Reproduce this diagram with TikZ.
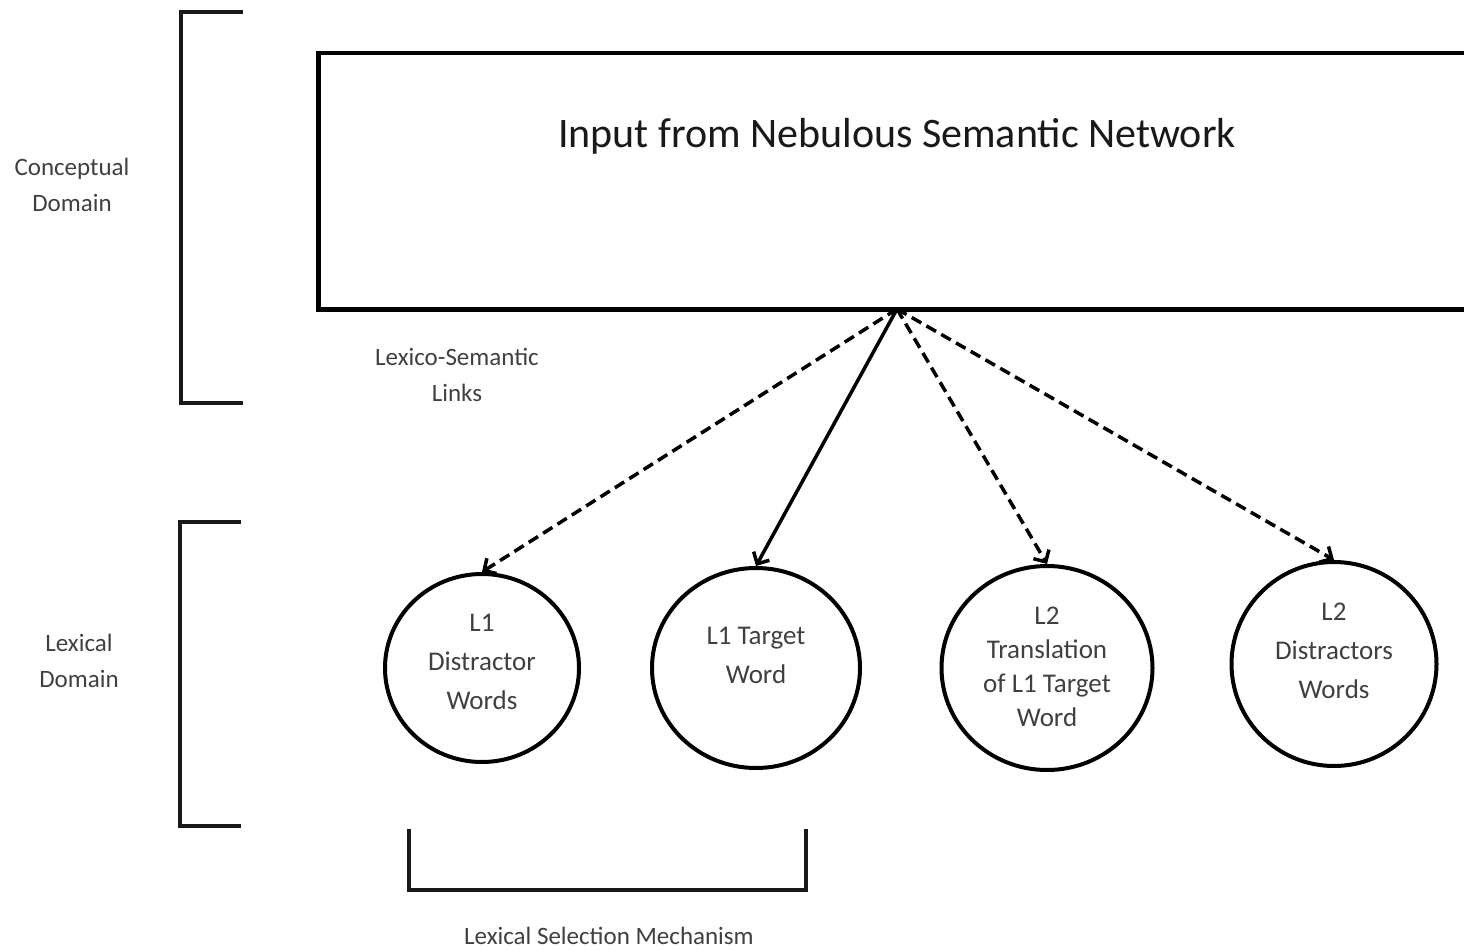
\documentclass[tikz,border=0pt]{standalone}
\usepackage{fontspec}
\setmainfont{Carlito}
\usetikzlibrary{arrows.meta,shapes.geometric}
\begin{document}
\begin{tikzpicture}[x=1pt,y=-1pt,
  bracket/.style={line width=3.5pt, black!90},
  bubble/.style={draw, ellipse, line width=4pt, inner sep=0pt},
  lbl/.style={font=\fontsize{25}{36}\selectfont, text=black!75, align=center, inner sep=0pt},
  ctext/.style={font=\fontsize{27}{39}\selectfont, text=black!75, align=center, inner sep=0pt},
  link/.style={line width=3.5pt, -{Straight Barb[length=9pt,width=18pt,line width=3.5pt]}},
  dashlink/.style={link, dash pattern=on 11pt off 6pt}]
\useasboundingbox (0,0) rectangle (1464,950);
\fill[white] (0,0) rectangle (1464,950);

% brackets
\draw[bracket] (243,12) -- (181,12) -- (181,403) -- (243,403);
\draw[bracket] (241,522) -- (180,522) -- (180,826) -- (241,826);
\draw[bracket] (409,829) -- (409,890) -- (806,890) -- (806,829);

% input box
\node[draw, line width=4.5pt, minimum width=1200pt, minimum height=256pt, anchor=north west, inner sep=0pt] (input) at (316,51) {};
\node[font=\fontsize{42}{50}\selectfont, text=black!90, inner sep=0pt] (ttl) at (897,136) {Input from Nebulous Semantic Network};
\coordinate (src) at (897,309);

% circles
\node[bubble, minimum width=194pt, minimum height=188pt] (c1) at (482,668) {};
\node[bubble, minimum width=208pt, minimum height=200pt] (c2) at (756,668) {};
\node[bubble, minimum width=211pt, minimum height=204pt] (c3) at (1047,668) {};
\node[bubble, minimum width=205pt, minimum height=204pt] (c4) at (1334,664) {};

\node[ctext] (t1) at (482,662) {L1\\Distractor\\Words};
\node[ctext] (t2) at (756,655) {L1 Target\\Word};
\node[ctext, font=\fontsize{27}{34}\selectfont] (t3) at (1047,667) {L2\\Translation\\of L1 Target\\Word};
\node[ctext] (t4) at (1334,651) {L2\\Distractors\\Words};

% links
\draw[dashlink] (src) -- (c1.north);
\draw[link] (src) -- (c2.north);
\draw[dashlink] (src) -- (c3.north);
\draw[dashlink] (src) -- (c4.north);

% labels
\node[lbl] (conc) at (72,185) {Conceptual\\Domain};
\node[lbl] (lexd) at (79,661) {Lexical\\Domain};
\node[lbl] (lsl) at (457,375) {Lexico-Semantic\\Links};
\node[lbl] (lsm) at (609,936) {Lexical Selection Mechanism};
\end{tikzpicture}
\end{document}
